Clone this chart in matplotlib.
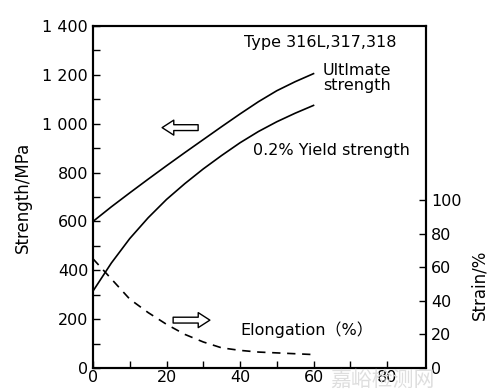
import matplotlib
matplotlib.use("Agg")
import matplotlib.pyplot as plt
import numpy as np

plt.rcParams['font.family'] = ['DejaVu Sans', 'Noto Sans CJK SC']

# Data
ult_x = [0, 5, 10, 15, 20, 25, 30, 35, 40, 45, 50, 55, 60]
ult_y = [600, 660, 717, 773, 828, 882, 935, 988, 1040, 1090, 1135, 1172, 1205]

yld_x = [0, 5, 10, 15, 20, 25, 30, 35, 40, 45, 50, 55, 60]
yld_y = [315, 430, 530, 615, 690, 755, 815, 870, 922, 968, 1008, 1043, 1075]

elo_x = [0, 5, 10, 15, 20, 25, 30, 35, 40, 45, 50, 55, 60]
elo_y = [65, 53, 41, 33, 26, 20, 15.5, 12, 10.5, 9.5, 9, 8.5, 8]

left_ticks = [0, 200, 400, 600, 800, 1000, 1200, 1400]
left_labels = ['0', '200', '400', '600', '800', '1 000', '1 200', '1 400']
right_ticks = [0, 20, 40, 60, 80, 100]
x_ticks = [0, 20, 40, 60, 80]

fig = plt.figure(figsize=(4.94, 3.91), dpi=100)
ax = fig.add_axes([0.1883, 0.0588, 0.674, 0.8747])
ax.set_xlim(0, 90.6)
ax.set_ylim(0, 1400)

ax.plot(ult_x, ult_y, color='black', lw=1.2)
ax.plot(yld_x, yld_y, color='black', lw=1.2)

ax.set_yticks(left_ticks)
ax.set_yticklabels(left_labels)
ax.set_yticks(np.arange(100, 1400, 200), minor=True)
ax.set_xticks(x_ticks)
ax.set_xticks(np.arange(10, 90, 20), minor=True)
ax.tick_params(which='both', direction='in', labelsize=11.5, pad=3.5,
               length=5, width=1)
ax.tick_params(axis='x', which='both', pad=1.5)
ax.set_ylabel('Strength/MPa', fontsize=12)
ax.yaxis.set_label_coords(-0.183, 0.5)
for s in ax.spines.values():
    s.set_linewidth(1.5)

ax2 = ax.twinx()
ax2.set_ylim(0, 203.6)
ax2.plot(elo_x, elo_y, color='black', lw=1.2, linestyle=(0, (5, 4)))
ax2.set_yticks(right_ticks)
ax2.tick_params(direction='in', labelsize=11.5, length=5, width=1, pad=3.5)
ax2.set_ylabel('Strain/%', fontsize=12)
ax2.yaxis.set_label_coords(1.132, 0.243)
for s in ax2.spines.values():
    s.set_linewidth(1.5)

# Annotations
ax.text(41.1, 1334, 'Type 316L,317,318', ha='left', va='center', fontsize=11.5)
ax.text(62.6, 1189, 'Ultlmate\nstrength', ha='left', va='center',
        fontsize=11.5, linespacing=1.0)
ax.text(43.5, 890, '0.2% Yield strength', ha='left', va='center', fontsize=11.5)
ax.text(40, 155, 'Elongation（%）', ha='left', va='center', fontsize=11.5)

arrow_style = 'simple,head_length=0.7,head_width=0.9,tail_width=0.35'
ax.annotate('', xy=(18.8, 984), xytext=(28.6, 984),
            arrowprops=dict(arrowstyle=arrow_style, fc='white', ec='black',
                            lw=1.0, mutation_scale=12, shrinkA=0, shrinkB=0))
ax.annotate('', xy=(31.8, 196), xytext=(21.8, 196),
            arrowprops=dict(arrowstyle=arrow_style, fc='white', ec='black',
                            lw=1.0, mutation_scale=12, shrinkA=0, shrinkB=0))

fig.text(0.775, 0.0, '嘉峪检测网', fontsize=15, color='#dedede',
         family=['Noto Sans CJK SC'], ha='center', va='bottom', zorder=0)

fig.savefig('out.png', dpi=100)
